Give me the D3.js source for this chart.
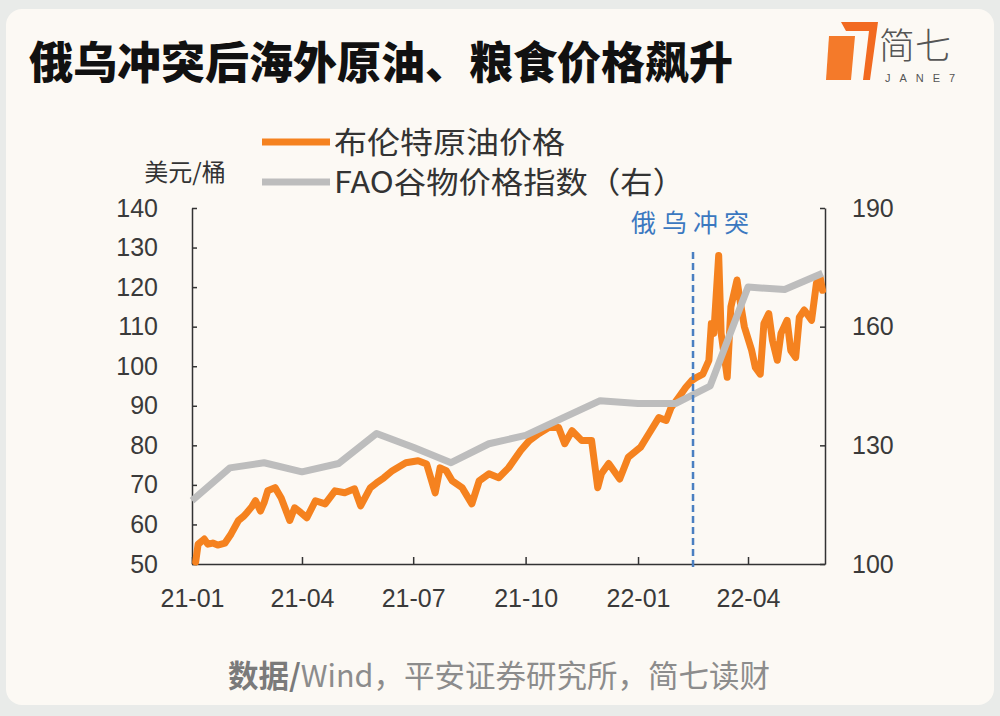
<!DOCTYPE html>
<html>
<head>
<meta charset="utf-8">
<script src="https://cdn.jsdelivr.net/npm/d3@7"></script>
<style>
html,body{margin:0;padding:0;background:#eaeaea;}
svg{display:block;}
</style>
</head>
<body>
<svg id="chart" width="1000" height="716"></svg>
<script>
// ---------------- DATA ----------------
const titleText = "俄乌冲突后海外原油、粮食价格飙升";
const seriesNames = ["布伦特原油价格", "FAO谷物价格指数（右）"];
const leftUnit = "美元/桶";
const eventLabel = "俄乌冲突";
const eventDate = "2022-02-15";
const sourceBold = "数据/";
const sourceRest = "Wind，平安证券研究所，简七读财";

const leftTicks = [50, 60, 70, 80, 90, 100, 110, 120, 130, 140];
const rightTicks = [100, 130, 160, 190];
const xTickDates = ["2021-01-01", "2021-04-01", "2021-07-01", "2021-10-01", "2022-01-01", "2022-04-01"];
const xTickLabels = ["21-01", "21-04", "21-07", "21-10", "22-01", "22-04"];

// Brent crude (USD/bbl)
const brentDates = [
  "2021-01-04","2021-01-06","2021-01-11","2021-01-14","2021-01-18","2021-01-22","2021-01-28","2021-02-02","2021-02-08","2021-02-12","2021-02-15",
  "2021-02-19","2021-02-22","2021-02-26","2021-03-01","2021-03-04","2021-03-10","2021-03-15","2021-03-22","2021-03-26","2021-03-31","2021-04-05",
  "2021-04-12","2021-04-20","2021-04-28","2021-05-06","2021-05-14","2021-05-19","2021-05-27","2021-06-01","2021-06-07",
  "2021-06-14","2021-06-25","2021-07-05","2021-07-12","2021-07-19","2021-07-23","2021-07-28","2021-08-02",
  "2021-08-10","2021-08-18","2021-08-24","2021-09-01","2021-09-09","2021-09-17","2021-09-27","2021-10-04",
  "2021-10-12","2021-10-20","2021-10-28","2021-11-02","2021-11-08","2021-11-16","2021-11-24","2021-11-29",
  "2021-12-02","2021-12-08","2021-12-17","2021-12-24","2022-01-03","2022-01-10","2022-01-18","2022-01-24",
  "2022-01-28","2022-02-03","2022-02-09","2022-02-14","2022-02-18","2022-02-23","2022-02-28","2022-03-02",
  "2022-03-04","2022-03-08","2022-03-10","2022-03-15","2022-03-18","2022-03-23","2022-03-25","2022-03-29",
  "2022-04-04","2022-04-07","2022-04-11","2022-04-14","2022-04-18","2022-04-21","2022-04-25","2022-04-28",
  "2022-05-03","2022-05-06","2022-05-10","2022-05-13","2022-05-17","2022-05-23","2022-05-27","2022-05-30",
  "2022-06-01"
];
const brentValues = [
  50.5, 55.0, 56.3, 55.0, 55.3, 54.8, 55.3, 57.6, 61.0, 62.0, 63.0,
  64.5, 66.0, 63.4, 65.5, 68.5, 69.3, 66.7, 61.0, 64.2, 63.0, 61.7,
  66.0, 65.2, 68.5, 68.0, 69.0, 64.7, 69.3, 70.5, 71.8,
  73.6, 75.6, 76.1, 75.3, 68.0, 74.3, 73.6, 71.0,
  69.3, 65.2, 71.0, 72.8, 71.8, 74.3, 78.7, 81.2,
  83.0, 84.5, 84.5, 80.4, 83.7, 81.2, 81.2, 69.3,
  72.8, 75.4, 71.5, 77.0, 79.5, 83.0, 87.0, 86.3,
  89.5, 92.0, 94.6, 96.4, 97.2, 98.0, 101.5, 110.8,
  108.3, 128.0, 108.3, 97.2, 115.0, 121.8, 117.5, 110.0,
  104.0, 99.7, 98.0, 110.8, 113.3, 106.5, 101.5, 108.3,
  111.6, 104.0, 102.2, 112.4, 114.2, 111.6, 121.0, 122.5,
  119.2
];

// FAO cereal price index (right axis)
const faoDates = [
  "2021-01-01","2021-02-01","2021-03-01","2021-04-01","2021-05-01","2021-06-01",
  "2021-07-01","2021-08-01","2021-09-01","2021-10-01","2021-11-01","2021-12-01",
  "2022-01-01","2022-02-01","2022-03-01","2022-04-01","2022-05-01","2022-06-01"
];
const faoValues = [
  116.0, 124.3, 125.6, 123.3, 125.4, 133.0,
  129.5, 125.6, 130.4, 132.5, 137.0, 141.3,
  140.6, 140.6, 145.0, 170.0, 169.4, 173.5
];

// ---------------- DRAW ----------------
const parse = d3.timeParse("%Y-%m-%d");
const svg = d3.select("#chart");
const CJK = "'Noto Sans CJK SC','Noto Sans',sans-serif";
const LAT = "'Liberation Sans',Arial,sans-serif";

// card
svg.append("rect").attr("x", 0).attr("y", 0).attr("width", 1000).attr("height", 716).attr("fill", "#e9ebe9");
svg.append("rect").attr("x", 6).attr("y", 9).attr("width", 988).attr("height", 696).attr("rx", 16)
  .attr("fill", "#fcf9f4");

// title
svg.append("text").attr("x", 29).attr("y", 79).text(titleText)
  .attr("font-family", CJK).attr("font-weight", 900).attr("font-size", 44).attr("fill", "#111");

// logo
const logo = svg.append("g");
logo.append("path").attr("d", "M841,22 L878,22 L870,80 L863,80 L869,31 L846,31 Z").attr("fill", "#f26a21");
logo.append("path").attr("d", "M829,36 L855,36 L851,80 L826,80 Z").attr("fill", "#f47a2a");
logo.append("text").attr("x", 879).attr("y", 59).text("简七")
  .attr("font-family", CJK).attr("font-weight", 300).attr("font-size", 36).attr("fill", "#555");
logo.append("text").attr("x", 885).attr("y", 82).text("JANE7")
  .attr("font-family", LAT).attr("font-size", 11).attr("letter-spacing", 9).attr("fill", "#555");

// scales
const x = d3.scaleTime().domain([parse("2021-01-01"), parse("2022-06-03")]).range([192, 825]);
const yL = d3.scaleLinear().domain([50, 140]).range([564, 208]);
const yR = d3.scaleLinear().domain([100, 190]).range([564, 208]);

const brent = brentDates.map((d, i) => ({ date: parse(d), value: brentValues[i] }));
const fao = faoDates.map((d, i) => ({ date: parse(d), value: faoValues[i] }));

// axes
const axisColor = "#333";
const gL = svg.append("g").attr("transform", "translate(192,0)")
  .call(d3.axisLeft(yL).tickValues(leftTicks).tickSizeInner(-5).tickSizeOuter(0).tickPadding(34));
const gR = svg.append("g").attr("transform", "translate(825,0)")
  .call(d3.axisRight(yR).tickValues(rightTicks).tickSizeInner(-5).tickSizeOuter(0).tickPadding(27));
const gB = svg.append("g").attr("transform", "translate(0,564)")
  .call(d3.axisBottom(x).tickValues(xTickDates.map(parse)).tickFormat((d, i) => xTickLabels[i])
    .tickSizeInner(-7).tickSizeOuter(0).tickPadding(25));
[gL, gR, gB].forEach(g => {
  g.select(".domain").attr("stroke", axisColor).attr("stroke-width", 1.5);
  g.selectAll(".tick line").attr("stroke", axisColor).attr("stroke-width", 1.5);
  g.selectAll(".tick text").attr("font-family", LAT).attr("font-size", 25).attr("fill", "#3a3a3a");
});

// lines
const lineL = d3.line().x(d => x(d.date)).y(d => yL(d.value)).curve(d3.curveLinear);
const lineR = d3.line().x(d => x(d.date)).y(d => yR(d.value)).curve(d3.curveLinear);
svg.append("path").datum(brent).attr("d", lineL).attr("fill", "none")
  .attr("stroke", "#f5821f").attr("stroke-width", 7).attr("stroke-linejoin", "round").attr("stroke-linecap", "round");
svg.append("path").datum(fao).attr("d", lineR).attr("fill", "none")
  .attr("stroke", "#bdbdbd").attr("stroke-width", 7).attr("stroke-linejoin", "round");

// event line
const ex = x(parse(eventDate));
svg.append("line").attr("x1", ex).attr("x2", ex).attr("y1", 252).attr("y2", 568)
  .attr("stroke", "#4a7fc1").attr("stroke-width", 2.5).attr("stroke-dasharray", "7,4");
svg.append("text").attr("x", ex).attr("y", 232).attr("text-anchor", "middle").text(eventLabel)
  .attr("font-family", CJK).attr("font-size", 25).attr("letter-spacing", 6).attr("fill", "#3b78c0");

// legend
const legend = svg.append("g");
const legColors = ["#f5821f", "#bdbdbd"];
const legWidths = [231, 351];
seriesNames.forEach((n, i) => {
  const cy = 142 + i * 40;
  legend.append("line").attr("x1", 262).attr("x2", 330).attr("y1", cy).attr("y2", cy)
    .attr("stroke", legColors[i]).attr("stroke-width", 7);
  legend.append("text").attr("x", 334).attr("y", cy).attr("dy", "0.36em").text(n)
    .attr("textLength", legWidths[i]).attr("lengthAdjust", "spacingAndGlyphs")
    .attr("font-family", CJK).attr("font-size", 30).attr("fill", "#333");
});
svg.append("text").attr("x", 185).attr("y", 172).attr("dy", "0.36em").attr("text-anchor", "middle").text(leftUnit)
  .attr("font-family", CJK).attr("font-size", 24).attr("fill", "#333");

// source
const src = svg.append("text").attr("x", 499).attr("y", 676).attr("dy", "0.36em").attr("text-anchor", "middle")
  .attr("font-family", CJK).attr("font-size", 30.5);
src.append("tspan").text(sourceBold).attr("font-weight", 700).attr("fill", "#7a7a7a");
src.append("tspan").text(sourceRest).attr("fill", "#8c8c8c");
</script>
</body>
</html>
